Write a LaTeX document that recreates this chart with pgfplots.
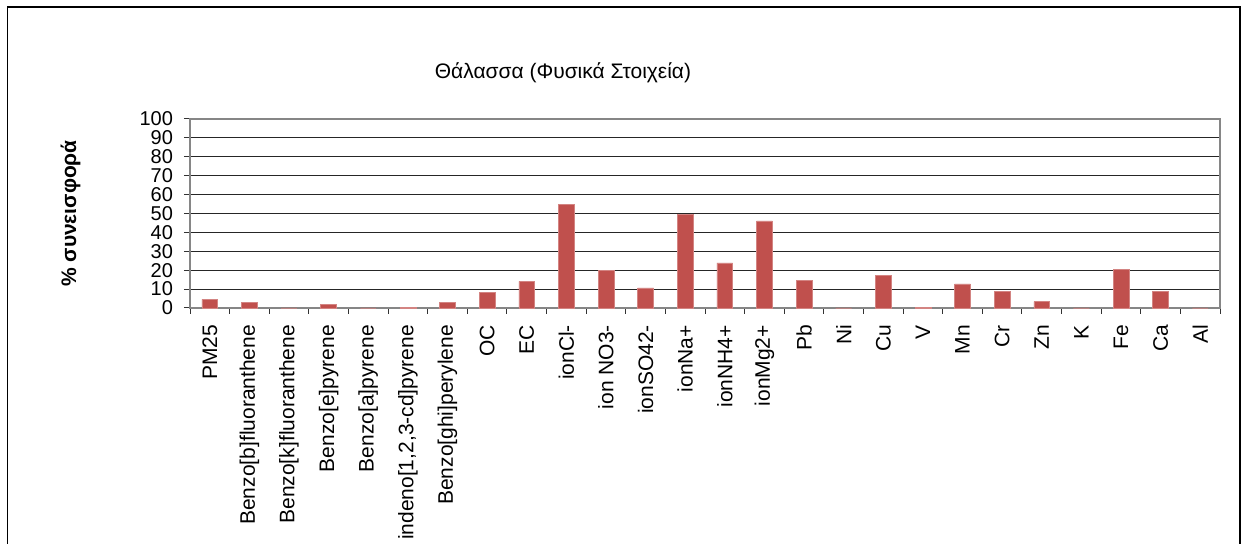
\documentclass[border=0pt]{standalone}
\usepackage{pgfplots}
\pgfplotsset{compat=1.18}
\usepackage{fontspec}
\setmainfont{Liberation Sans}
\definecolor{barred}{HTML}{C0504D}
\definecolor{framegray}{HTML}{868686}
\begin{document}
\begin{tikzpicture}[x=1pt,y=1pt]
\useasboundingbox (0,0) rectangle (623.5,272);
\draw[line width=0.75pt] (3.75,-2) -- (3.75,268.6) -- (620,268.6) -- (620,-2);
\node[font=\fontsize{10.5}{12}\selectfont] at (281.5,235.5) {Θάλασσα (Φυσικά Στοιχεία)};
\begin{axis}[
  scale only axis,
  width=515pt, height=94.5pt,
  at={(95pt,118pt)}, anchor=south west,
  ybar, bar width=0.4,
  xmin=-0.5, xmax=25.5,
  ymin=0, ymax=100,
  ytick={0,10,...,100},
  xtick={0,...,25},
  xticklabels={PM25,Benzo[b]fluoranthene,Benzo[k]fluoranthene,Benzo[e]pyrene,Benzo[a]pyrene,{indeno[1,2,3-cd]pyrene},Benzo[ghi]perylene,OC,EC,ionCl-,ion NO3-,ionSO42-,ionNa+,ionNH4+,ionMg2+,Pb,Ni,Cu,V,Mn,Cr,Zn,K,Fe,Ca,Al},
  minor xtick={-0.5,0.5,...,25.5},
  major x tick style={draw=none},
  minor x tick style={black!80, line width=0.5pt},
  y tick style={black!80, line width=0.5pt},
  tick align=outside,
  major tick length=3pt, minor tick length=3pt,
  xtick pos=bottom, ytick pos=left,
  ymajorgrids,
  grid style={black!85, line width=0.5pt},
  axis line style={framegray, line width=0.8pt},
  x tick label style={rotate=90, anchor=east, font=\fontsize{10.5}{12}\selectfont, xshift=-2pt},
  y tick label style={font=\fontsize{10}{10}\selectfont, xshift=-2pt},
  /pgf/number format/assume math mode=true,
  ylabel={\textbf{\% συνεισφορά}},
  ylabel style={at={(rel axis cs:0,0.5)}, anchor=center, yshift=59.75pt, font=\fontsize{10.5}{12}\selectfont},
  clip=false,
]
\addplot[fill=barred, draw=barred!70!white, line width=0.3pt] coordinates {
(0,4.6) (1,3.0) (2,0) (3,1.8) (4,0) (5,0.2) (6,3.0) (7,8.1) (8,14.1) (9,55.0)
(10,20.0) (11,10.6) (12,49.5) (13,23.9) (14,46.1) (15,14.7) (16,0) (17,17.3)
(18,0.5) (19,12.7) (20,8.7) (21,3.4) (22,0) (23,20.5) (24,8.8) (25,0)
};
\end{axis}
\end{tikzpicture}
\end{document}
